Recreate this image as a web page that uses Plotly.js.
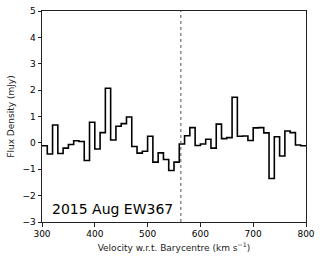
<!DOCTYPE html>
<html><head><meta charset="utf-8">
<script src="https://cdn.plot.ly/plotly-3.0.1.min.js"></script>
<style>body{margin:0;padding:0;background:#fff}#chart{width:322px;height:262px}</style>
</head><body><div id="chart"></div>
<script>
// bin centres (km/s) and flux density (mJy)
const binCentres = [305,315,325,335,345,355,365,375,385,395,405,415,425,435,445,455,465,475,485,495,
  505,515,525,535,545,555,565,575,585,595,605,615,625,635,645,655,665,675,685,695,
  705,715,725,735,745,755,765,775,785,795];
const flux = [-0.11,-0.42,0.68,-0.40,-0.20,-0.06,0.08,0.05,-0.67,0.78,-0.23,0.39,2.07,0.11,0.63,0.73,0.98,-0.14,-0.39,-0.32,
  0.25,-0.73,-0.38,-0.63,-1.05,-0.73,-0.04,0.27,0.58,-0.10,-0.04,0.14,-0.20,0.71,0.16,0.20,1.73,0.25,0.26,0.09,
  0.57,0.58,0.38,-1.35,0.23,-0.50,0.45,0.39,-0.08,-0.11];
const binWidth = 10;
const systemicVelocity = 563;
const label = "2015 Aug EW367";
const xTicks = [300,400,500,600,700,800];
const yTicks = [-3,-2,-1,0,1,2,3,4,5];

// build step edges from the bin centres
const xs = binCentres.map(c => c - binWidth/2);
xs.push(binCentres[binCentres.length-1] + binWidth/2);
const ys = flux.slice();
ys.push(flux[flux.length-1]);

const trace = {x: xs, y: ys, type: 'scatter', mode: 'lines',
  line: {shape: 'hv', color: '#000', width: 1.6}, hoverinfo: 'skip'};

const axisCommon = {showgrid: false, zeroline: false, showline: true, mirror: true,
  linecolor: '#222', linewidth: 1, ticks: 'outside', ticklen: 3.5, tickwidth: 1, tickcolor: '#222',
  tickfont: {family: 'DejaVu Sans', size: 9, color: '#000'}};

const layout = {
  width: 322, height: 262,
  margin: {l: 42, r: 16, t: 11, b: 40},
  paper_bgcolor: '#fff', plot_bgcolor: '#fff',
  showlegend: false,
  xaxis: Object.assign({}, axisCommon, {range: [300, 800], tickvals: xTicks,
    title: {text: 'Velocity w.r.t. Barycentre (km s<sup>\u22121</sup>)', font: {family: 'DejaVu Sans', size: 9, color: '#222'}, standoff: 6}}),
  yaxis: Object.assign({}, axisCommon, {range: [-3, 5], tickvals: yTicks,
    title: {text: 'Flux Density (mJy)', font: {family: 'DejaVu Sans', size: 9, color: '#222'}, standoff: 6}}),
  shapes: [{type: 'line', xref: 'x', yref: 'paper', x0: systemicVelocity, x1: systemicVelocity, y0: 0, y1: 1,
    line: {color: '#555', width: 1, dash: 'dot'}}],
  annotations: [{xref: 'paper', yref: 'paper', x: 0.03, y: 0.06, xanchor: 'left', yanchor: 'middle',
    text: label, showarrow: false, font: {family: 'DejaVu Sans', size: 14, color: '#000'}}]
};

Plotly.newPlot('chart', [trace], layout, {staticPlot: true, displayModeBar: false});
</script></body></html>
